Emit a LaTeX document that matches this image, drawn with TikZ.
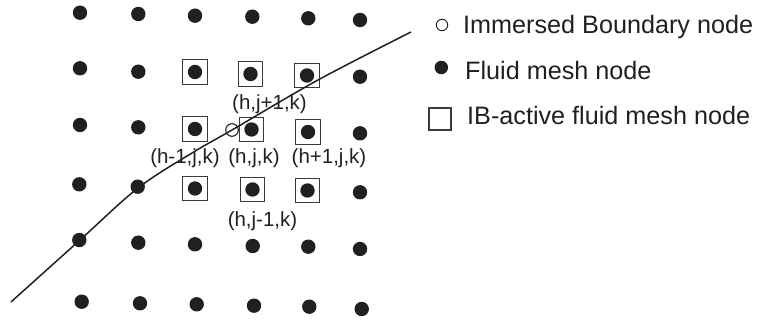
\documentclass[tikz,border=0pt]{standalone}
\usepackage{fontspec}
\setmainfont{Liberation Sans}
\definecolor{ink}{HTML}{231F20}
\definecolor{boxgray}{HTML}{3A3A3A}
\tikzset{
  meshdot/.style={circle, fill=ink, draw=none, minimum size=14.4pt, inner sep=0pt},
  ibbox/.style={rectangle, draw=boxgray, line width=1.3pt, minimum size=24.5pt, inner sep=0pt},
  ibnode/.style={circle, draw=ink, line width=1.1pt, minimum size=12.6pt, inner sep=0pt},
  boundary/.style={draw=ink, line width=1.5pt},
  idx/.style={font=\fontsize{20.5}{24}\selectfont, text=ink, inner sep=0pt, anchor=base},
  legtext/.style={font=\fontsize{25.2}{30}\selectfont, text=ink, inner sep=0pt, anchor=base west},
}
\begin{document}
\begin{tikzpicture}[x=1pt, y=-1pt]
\useasboundingbox (0,0) rectangle (763,320);

% IB-active boxes around the nine central fluid nodes
\foreach \n/\x/\y in {23/195/72, 24/250.5/74, 25/307/75.5,
                      33/195/129, 34/251.5/129.5, 35/308/132,
                      43/195/188.5, 44/252.5/189.5, 45/307.5/190.5}
  \node[ibbox] (s\n) at (\x,\y) {};

% fluid mesh nodes
\foreach \n/\x/\y in {
  11/80/12.7, 12/138.3/14, 13/195/15.7, 14/252.3/16.7, 15/308.3/18.3, 16/360/20,
  21/80/68.3, 22/138.3/71.7, 23/195/72, 24/250.5/74, 25/307/75.5, 26/360/76.7,
  31/80/125, 32/138.3/127.3, 33/195/129, 34/251.5/129.5, 35/308/132, 36/360/133.3,
  41/79.3/184.3, 42/137.7/186.7, 43/195/188.5, 44/252.5/189.5, 45/307.5/190.5, 46/360/192.3,
  51/79.3/240, 52/138.3/242.7, 53/195/244.3, 54/252.7/246, 55/308.3/246.7, 56/360/249,
  61/81.7/301.7, 62/140/303.3, 63/196.7/304.3, 64/254/305.7, 65/309.3/306.7, 66/361.7/309}
  \node[meshdot] (d\n) at (\x,\y) {};

% immersed boundary
\draw[boundary] plot[smooth, tension=0.55] coordinates
  {(11,302) (80,240) (138,188) (192,153) (232,130) (318,80) (411,32)};

% immersed boundary node
\node[ibnode] (ib) at (232,130) {};

% index labels
\node[idx] (lW) at (185,163.3) {(h-1,j,k)};
\node[idx] (lC) at (254,163.3) {(h,j,k)};
\node[idx] (lE) at (329,163.3) {(h+1,j,k)};
\node[idx] (lN) at (269.5,110) {(h,j+1,k)};
\node[idx] (lS) at (262.5,226.7) {(h,j-1,k)};

% legend
\node[circle, draw=ink, line width=0.9pt, minimum size=11.5pt, inner sep=0pt] (k1) at (442,25) {};
\node[legtext] (t1) at (463,34) {Immersed Boundary node};
\node[meshdot, minimum size=13.5pt] (k2) at (441.3,67.5) {};
\node[legtext] (t2) at (465,79.5) {Fluid mesh node};
\node[rectangle, draw=boxgray, line width=1.1pt, minimum size=22pt, inner sep=0pt] (k3) at (440,119) {};
\node[legtext] (t3) at (467,124.5) {IB-active fluid mesh node};
\end{tikzpicture}
\end{document}
